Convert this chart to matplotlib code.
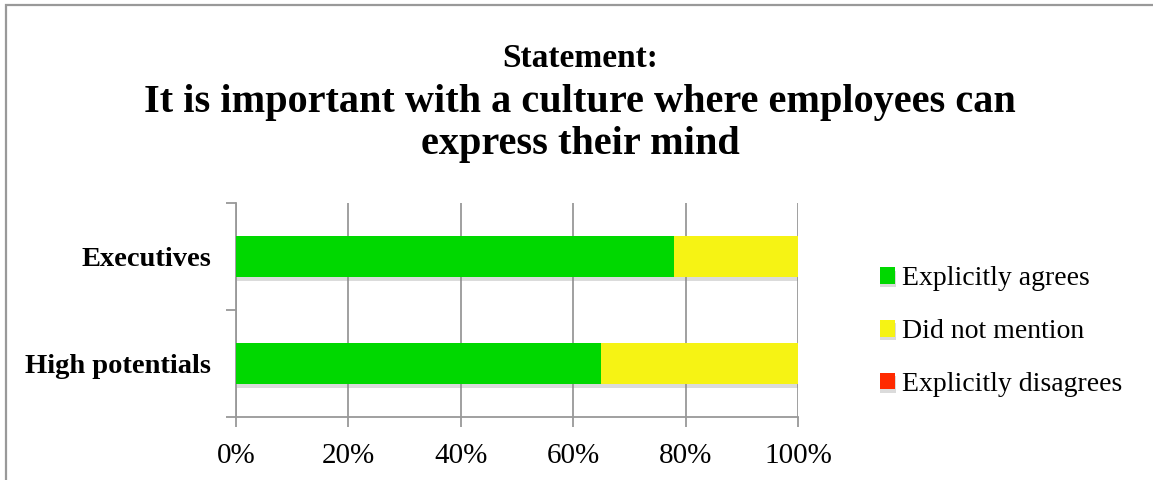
import matplotlib
matplotlib.use("Agg")
import matplotlib.pyplot as plt
import matplotlib.patheffects as pe
from matplotlib.patches import Rectangle
from matplotlib.ticker import FuncFormatter, MultipleLocator

# survey shares per group, in percent
groups = ["High potentials", "Executives"]
agrees = [65, 78]
not_mentioned = [35, 22]
disagrees = [0, 0]

series_names = ["Explicitly agrees", "Did not mention", "Explicitly disagrees"]
series_colors = ["#00d800", "#f6f314", "#ff2a00"]

plt.rcParams["font.family"] = ["Liberation Serif", "DejaVu Serif"]

fig = plt.figure(figsize=(11.53, 4.8), dpi=100)
ax = fig.add_axes([0.2047, 0.13125, 0.4874, 0.44575])

# outer frame of the chart area (only top and left edges fall inside the image)
fig.patches.append(Rectangle((0.0048, -0.1), 1.2, 1.0896, transform=fig.transFigure,
                             fill=False, edgecolor="#999999", linewidth=1.6))

ypos = list(range(len(groups)))
shadow = [pe.SimplePatchShadow(offset=(0.5, -2.5), shadow_rgbFace="#888888", alpha=0.3),
          pe.Normal()]
left = [0] * len(groups)
for vals, name, col in zip([agrees, not_mentioned, disagrees], series_names, series_colors):
    bars = ax.barh(ypos, vals, left=left, height=0.39, color=col, label=name,
                   edgecolor="none", zorder=3)
    for b in bars:
        b.set_path_effects(shadow)
    left = [l + v for l, v in zip(left, vals)]

ax.set_xlim(0, 100)
ax.set_ylim(-0.5, 1.5)
ax.xaxis.set_major_locator(MultipleLocator(20))
ax.xaxis.set_major_formatter(FuncFormatter(lambda v, p: f"{v:.0f}%"))
ax.grid(axis="x", color="#999999", linewidth=1.3, zorder=0)

ax.set_yticks(ypos)
ax.set_yticklabels(groups, fontweight="bold", fontsize=20.5)
ax.set_yticks([-0.5, 0.5, 1.5], minor=True)
ax.tick_params(axis="y", which="major", length=0, pad=18)
ax.tick_params(axis="y", which="minor", length=7, width=1.3, color="#999999")
ax.tick_params(axis="x", length=7, width=1.3, color="#999999", labelsize=21, pad=12)

for s in ["top", "right"]:
    ax.spines[s].set_visible(False)
for s in ["left", "bottom"]:
    ax.spines[s].set_color("#999999")
    ax.spines[s].set_linewidth(1.3)

fig.text(0.503, 0.879, "Statement:", ha="center", va="center", fontsize=24, fontweight="bold")
fig.text(0.503, 0.742, "It is important with a culture where employees can\nexpress their mind",
         ha="center", va="center", fontsize=29, fontweight="bold", linespacing=1.17)

leg = fig.legend(loc="center left", bbox_to_anchor=(0.763, 0.309), frameon=False,
                 fontsize=20, handlelength=0.55, handleheight=0.55, handletextpad=0.25,
                 labelspacing=1.0, borderpad=0, borderaxespad=0)

fig.savefig("out.png", dpi=100)
